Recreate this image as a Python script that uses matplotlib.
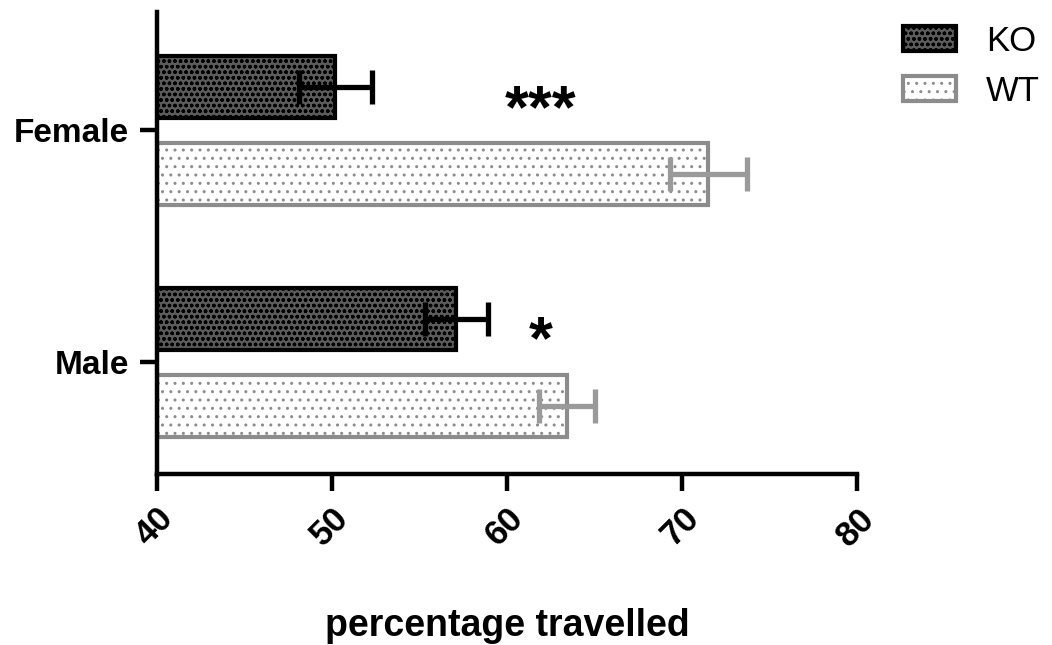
import matplotlib

matplotlib.use("Agg")
import matplotlib.pyplot as plt  # noqa: E402
from matplotlib.patches import Patch  # noqa: E402

plt.rcParams["font.family"] = ["Liberation Sans", "DejaVu Sans"]

groups = ["Male", "Female"]
ko_mean = [57.1, 50.2]
ko_err = [1.8, 2.1]
wt_mean = [63.4, 71.5]
wt_err = [1.6, 2.2]
stars = ["*", "***"]
xticks = [40, 50, 60, 70, 80]

fig = plt.figure(figsize=(10.52, 6.45), dpi=100)
ax = fig.add_axes([0.149, 0.265, 0.666, 0.716])

pos = list(range(len(groups)))
h = 0.267
off = 0.1875
base = 40

ko_w = [v - base for v in ko_mean]
wt_w = [v - base for v in wt_mean]

ko_style = dict(facecolor="#5c5c5c", edgecolor="black", hatch="ooo", linewidth=3)
wt_style = dict(facecolor="white", edgecolor="#8c8c8c", hatch="..", linewidth=3)

ax.barh([p + off for p in pos], ko_w, height=h, left=base, zorder=2, **ko_style)
ax.barh([p - off for p in pos], wt_w, height=h, left=base, zorder=2, **wt_style)
ax.errorbar(ko_mean, [p + off for p in pos], xerr=ko_err, fmt="none", ecolor="black",
            elinewidth=3.8, capsize=12, capthick=3.8, zorder=3)
ax.errorbar(wt_mean, [p - off for p in pos], xerr=wt_err, fmt="none", ecolor="#9a9a9a",
            elinewidth=3.8, capsize=12, capthick=3.8, zorder=3)

# significance marks sit level with the KO bar of each group
for p, s in zip(pos, stars):
    ax.text(61.9, p + 0.015, s, ha="center", va="baseline", fontsize=44,
            fontweight="bold")

ax.set_xlim(40, 80)
ax.set_ylim(-0.483, 1.509)
ax.set_xticks(xticks)
ax.set_xticklabels([str(t) for t in xticks], rotation=45, ha="right",
                   rotation_mode="anchor", fontsize=25, fontweight="bold")
ax.set_yticks(pos)
ax.set_yticklabels(groups, fontsize=24, fontweight="bold")
ax.tick_params(axis="both", length=12, width=3.2, color="black")
ax.tick_params(axis="x", pad=8)
ax.tick_params(axis="y", pad=8)
for side in ("top", "right"):
    ax.spines[side].set_visible(False)
for side in ("left", "bottom"):
    ax.spines[side].set_linewidth(3.2)

ax.set_xlabel("percentage travelled", fontsize=27, fontweight="bold", labelpad=40)

handles = [
    Patch(label="KO", **ko_style),
    Patch(label="WT", **wt_style),
]
fig.legend(handles=handles, loc="upper left", bbox_to_anchor=(0.858, 0.962),
           frameon=False, fontsize=25, handlelength=1.55, handleheight=0.75,
           labelspacing=0.5, handletextpad=0.85, borderpad=0, borderaxespad=0)

fig.savefig("out.png", dpi=100)
